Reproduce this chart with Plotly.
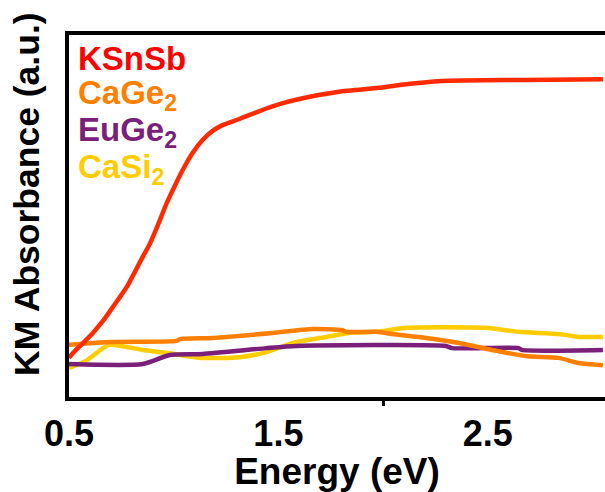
import plotly.graph_objects as go

# Kubelka-Munk absorbance spectra (arbitrary units) vs photon energy
ksnsb_e = [0.50, 0.52, 0.567, 0.614, 0.662, 0.71, 0.743, 0.776, 0.814, 0.852, 0.886,
           0.919, 0.967, 1.005, 1.043, 1.09, 1.138, 1.186, 1.233, 1.314, 1.41, 1.505,
           1.60, 1.79, 1.98, 2.08, 2.28, 2.68, 3.05]
ksnsb_v = [0.108, 0.122, 0.149, 0.177, 0.210, 0.249, 0.276, 0.304, 0.345, 0.387, 0.423,
           0.467, 0.536, 0.583, 0.627, 0.674, 0.710, 0.735, 0.751, 0.768, 0.790, 0.809,
           0.823, 0.843, 0.854, 0.862, 0.873, 0.876, 0.878]

cage2_e = [0.50, 0.695, 1.014, 1.029, 1.186, 1.471, 1.662, 1.805, 1.824, 1.967, 2.043,
           2.205, 2.362, 2.519, 2.681, 2.838, 2.933, 3.05]
cage2_v = [0.144, 0.152, 0.155, 0.160, 0.163, 0.177, 0.188, 0.185, 0.180, 0.180, 0.174,
           0.163, 0.149, 0.130, 0.113, 0.108, 0.094, 0.088]

euge2_e = [0.50, 0.852, 0.981, 1.138, 1.443, 1.586, 2.300, 2.329, 2.648, 2.662, 3.05]
euge2_v = [0.091, 0.091, 0.116, 0.119, 0.135, 0.141, 0.141, 0.135, 0.135, 0.130, 0.130]

casi2_e = [0.50, 0.586, 0.662, 0.695, 0.776, 0.852, 0.967, 1.138, 1.314, 1.443, 1.567,
           1.729, 1.838, 1.967, 2.110, 2.490, 2.648, 2.838, 2.933, 3.05]
casi2_v = [0.080, 0.102, 0.135, 0.144, 0.138, 0.130, 0.122, 0.108, 0.110, 0.124, 0.149,
           0.166, 0.177, 0.180, 0.191, 0.191, 0.180, 0.174, 0.166, 0.166]

series = [
    ("KSnSb", ksnsb_e, ksnsb_v, "#ff2a00", "#ff0000"),
    ("CaGe<sub>2</sub>", cage2_e, cage2_v, "#ff8000", "#ff8000"),
    ("EuGe<sub>2</sub>", euge2_e, euge2_v, "#7a1f7a", "#7a1f7a"),
    ("CaSi<sub>2</sub>", casi2_e, casi2_v, "#ffcc00", "#ffcc00"),
]

x_tick_labels = [0.5, 1.5, 2.5]

FONT = "Liberation Sans, Arial, sans-serif"

fig = go.Figure()
# draw the flat spectra first so KSnSb sits on top
for name, e, v, color, _ in [series[3], series[2], series[1], series[0]]:
    fig.add_trace(go.Scatter(x=e, y=v, mode="lines", name=name,
                             line=dict(color=color, width=4.5, shape="spline", smoothing=0.6),
                             showlegend=False))

# coloured text legend in the upper left
for i, (name, _, _, _, tcolor) in enumerate(series):
    fig.add_annotation(
        x=0, y=1, xref="paper", yref="paper", xanchor="left", yanchor="middle",
        xshift=7, yshift=-23 - 37 * i, showarrow=False,
        text="<b>%s</b>" % name,
        font=dict(family=FONT, size=33, color=tcolor),
    )

fig.add_annotation(
    x=0, y=0.5, xref="paper", yref="paper", xanchor="center", yanchor="middle",
    xshift=-42, yshift=22, showarrow=False, textangle=-90,
    text="<b>KM Absorbance (a.u.)</b>",
    font=dict(family=FONT, size=35.5, color="black"),
)

fig.update_layout(
    width=605, height=492,
    margin=dict(l=69, r=0, t=35, b=95),
    paper_bgcolor="white", plot_bgcolor="white",
    xaxis=dict(
        range=[0.5, 3.06], showgrid=False, zeroline=False,
        showline=True, linecolor="black", linewidth=4, mirror=True,
        tickvals=x_tick_labels, ticktext=["<b>%.1f</b>" % t for t in x_tick_labels],
        ticks="", ticklabelstandoff=2,
        minor=dict(tickvals=[2.0], ticks="outside", ticklen=5, tickwidth=3, tickcolor="black"),
        tickfont=dict(family=FONT, size=36, color="black"),
        title=dict(text="<b>Energy (eV)</b>", standoff=3,
                   font=dict(family=FONT, size=37, color="black")),
    ),
    yaxis=dict(
        range=[0, 1], showgrid=False, zeroline=False,
        showline=True, linecolor="black", linewidth=4, mirror=False,
        showticklabels=False, ticks="",
    ),
)

fig.write_html("out.html")
